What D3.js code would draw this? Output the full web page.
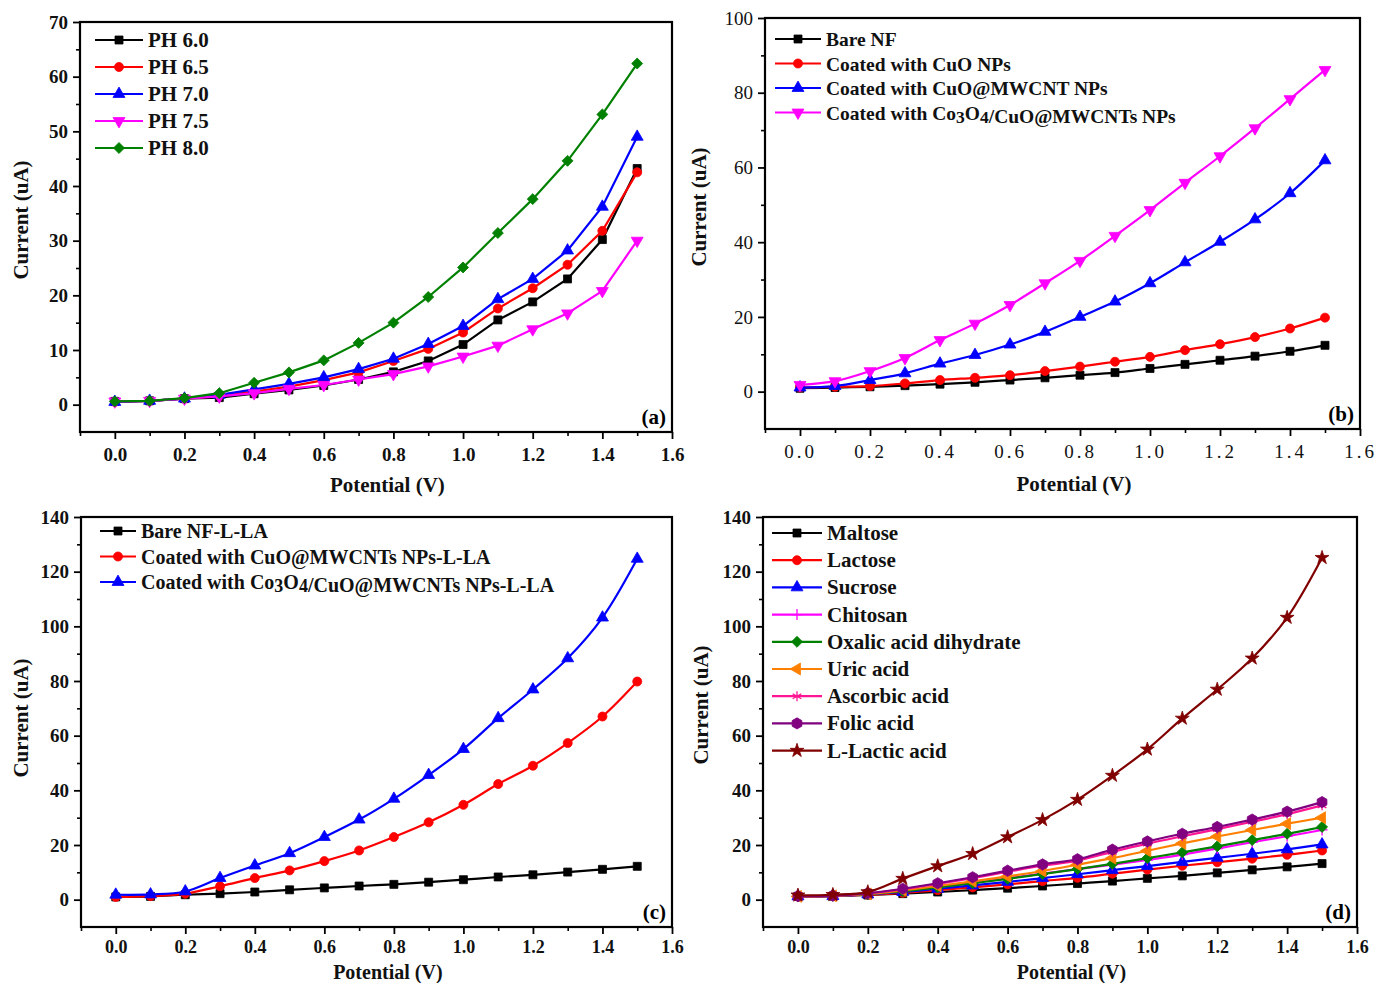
<!DOCTYPE html>
<html>
<head>
<meta charset="utf-8">
<script src="https://cdn.jsdelivr.net/npm/d3@7"></script>
<style>
  body { margin: 0; background: #fff; }
  text { font-family: "Liberation Serif", "Times New Roman", serif; }
</style>
</head>
<body>
<svg id="fig" width="1376" height="983"></svg>
<script>
// Applied potential (V), shared by every curve
const potential = [0.0, 0.1, 0.2, 0.3, 0.4, 0.5, 0.6, 0.7, 0.8, 0.9, 1.0, 1.1, 1.2, 1.3, 1.4, 1.5];

// (a) effect of pH
const phLabels = ["PH 6.0", "PH 6.5", "PH 7.0", "PH 7.5", "PH 8.0"];
const ph60 = [0.6, 0.7, 1.1, 1.3, 2.0, 2.7, 3.5, 4.6, 6.0, 8.0, 11.0, 15.5, 18.8, 23.0, 30.2, 43.2];
const ph65 = [0.5, 0.7, 1.1, 1.6, 2.4, 3.3, 4.5, 5.9, 8.0, 10.2, 13.2, 17.6, 21.3, 25.6, 31.8, 42.5];
const ph70 = [0.5, 0.7, 1.1, 1.8, 2.8, 3.8, 5.0, 6.5, 8.4, 11.1, 14.4, 19.3, 23.0, 28.2, 36.2, 49.0];
const ph75 = [0.6, 0.7, 1.1, 1.5, 2.1, 2.9, 3.6, 4.6, 5.6, 7.0, 8.8, 10.8, 13.8, 16.7, 20.8, 30.0];
const ph80 = [0.6, 0.7, 1.2, 2.1, 4.0, 5.9, 8.1, 11.3, 15.0, 19.7, 25.1, 31.4, 37.6, 44.6, 53.1, 62.4];

// (b) electrode modification
const electrodeLabels = ["Bare NF", "Coated with CuO NPs", "Coated with CuO@MWCNT NPs", "Coated with Co3O4/CuO@MWCNTs NPs"];
const bareNF = [0.9, 1.1, 1.3, 1.6, 2.0, 2.5, 3.1, 3.7, 4.4, 5.1, 6.2, 7.3, 8.4, 9.5, 10.8, 12.4];
const cuoNP = [1.1, 1.3, 1.5, 2.2, 3.1, 3.7, 4.4, 5.5, 6.7, 8.0, 9.3, 11.1, 12.7, 14.6, 16.9, 19.8];
const cuoMwcnt = [1.1, 1.5, 3.1, 4.9, 7.5, 9.8, 12.6, 16.0, 20.0, 24.1, 29.0, 34.6, 40.1, 46.1, 53.1, 61.9];
const co3o4CuoMwcnt = [1.8, 2.8, 5.5, 9.0, 13.8, 18.2, 23.2, 29.0, 35.0, 41.7, 48.6, 55.9, 63.0, 70.5, 78.3, 86.1];

// (c) response to L-lactic acid
const lactateLabels = ["Bare NF-L-LA", "Coated with CuO@MWCNTs NPs-L-LA", "Coated with Co3O4/CuO@MWCNTs NPs-L-LA"];
const bareLA = [1.0, 1.2, 1.8, 2.2, 2.8, 3.6, 4.3, 5.0, 5.6, 6.4, 7.3, 8.3, 9.1, 10.1, 11.1, 12.2];
const cuoMwcntLA = [1.0, 1.3, 2.2, 4.9, 7.9, 10.7, 14.1, 18.0, 22.9, 28.3, 34.7, 42.3, 49.0, 57.3, 67.0, 79.8];
const co3o4LA = [1.8, 1.9, 3.0, 7.9, 12.5, 17.0, 22.9, 29.3, 36.9, 45.6, 55.1, 66.4, 76.9, 88.3, 103.2, 124.7];

// (d) selectivity against interferents
const analyteLabels = ["Maltose", "Lactose", "Sucrose", "Chitosan", "Oxalic acid dihydrate", "Uric acid", "Ascorbic acid", "Folic acid", "L-Lactic acid"];
const maltose = [1.2, 1.3, 1.7, 2.2, 2.8, 3.5, 4.2, 5.0, 5.9, 6.8, 7.8, 8.7, 9.8, 10.9, 12.0, 13.2];
const lactose = [1.2, 1.3, 1.8, 2.5, 3.5, 4.5, 5.6, 6.8, 8.0, 9.5, 11.0, 12.4, 13.7, 15.0, 16.4, 18.0];
const sucrose = [1.2, 1.3, 1.9, 2.8, 4.0, 5.2, 6.5, 7.9, 9.3, 10.8, 12.3, 13.8, 15.3, 16.8, 18.4, 20.2];
const chitosan = [1.2, 1.4, 2.0, 3.2, 4.6, 6.2, 7.8, 9.5, 11.2, 12.8, 14.5, 16.5, 18.7, 21.0, 23.2, 25.5];
const oxalicAcid = [1.2, 1.4, 2.0, 3.1, 4.5, 6.0, 7.6, 9.4, 11.2, 13.1, 15.2, 17.3, 19.5, 21.8, 24.1, 26.6];
const uricAcid = [1.2, 1.4, 2.1, 3.4, 5.0, 6.7, 8.5, 10.5, 12.8, 15.2, 17.9, 20.6, 23.1, 25.5, 27.8, 30.0];
const ascorbicAcid = [1.3, 1.5, 2.3, 3.8, 5.8, 7.9, 10.2, 12.4, 14.3, 17.5, 20.5, 23.2, 25.8, 28.5, 31.3, 34.5];
const folicAcid = [1.3, 1.5, 2.4, 4.0, 6.0, 8.2, 10.6, 12.9, 14.8, 18.3, 21.3, 24.1, 26.6, 29.3, 32.2, 35.7];
const lacticAcid = [1.6, 1.8, 2.8, 7.7, 12.3, 16.8, 22.9, 29.2, 36.6, 45.4, 55.0, 66.3, 76.9, 88.3, 103.2, 125.1];

// Axis tick values
const xMajorTicks = [0.0, 0.2, 0.4, 0.6, 0.8, 1.0, 1.2, 1.4, 1.6];
const xMinorTicks = [-0.1, 0.1, 0.3, 0.5, 0.7, 0.9, 1.1, 1.3, 1.5];
const yTicksA = [0, 10, 20, 30, 40, 50, 60, 70];
const yTicksB = [0, 20, 40, 60, 80, 100];
const yTicksCD = [0, 20, 40, 60, 80, 100, 120, 140];

const svg = d3.select("#fig");

// ---- marker shapes ----
function hexPath(r) {
  const pts = d3.range(6).map(i => {
    const a = Math.PI / 6 + i * Math.PI / 3;
    return [r * Math.cos(a), r * Math.sin(a)];
  });
  return "M" + pts.map(p => p.join(",")).join("L") + "Z";
}
function drawMarker(g, kind, color, x, y) {
  const m = g.append("g").attr("transform", `translate(${x},${y})`);
  const fillShape = (path, rot) => m.append("path").attr("d", path)
    .attr("transform", rot ? `rotate(${rot})` : null)
    .attr("fill", color).attr("stroke", color).attr("stroke-width", 0.8);
  switch (kind) {
    case "square": fillShape(d3.symbol(d3.symbolSquare, 64)()); break;
    case "circle": fillShape(d3.symbol(d3.symbolCircle, 64)()); break;
    case "triUp": fillShape(d3.symbol(d3.symbolTriangle, 62)()); break;
    case "triDown": fillShape(d3.symbol(d3.symbolTriangle, 62)(), 180); break;
    case "triLeft": fillShape(d3.symbol(d3.symbolTriangle, 62)(), -90); break;
    case "diamond": fillShape(d3.symbol(d3.symbolSquare, 60)(), 45); break;
    case "hexagon": fillShape(hexPath(5.6)); break;
    case "star": fillShape(d3.symbol(d3.symbolStar, 60)()); break;
    case "cross":
      m.append("path").attr("d", "M-5.5,0H5.5M0,-5.5V5.5").attr("stroke", color).attr("stroke-width", 1.3);
      break;
    case "asterisk":
      m.append("path").attr("d", d3.symbol(d3.symbolAsterisk, 70)()).attr("fill", "none")
        .attr("stroke", color).attr("stroke-width", 1.3);
      break;
  }
}

// Label text with the chemical subscripts of Co3O4
function writeLabel(t, str) {
  const parts = str.split(/(Co3O4)/);
  parts.forEach(p => {
    if (p === "Co3O4") {
      t.append("tspan").text("Co");
      t.append("tspan").attr("dy", 3).attr("font-size", "0.9em").text("3");
      t.append("tspan").attr("dy", -3).text("O");
      t.append("tspan").attr("dy", 3).attr("font-size", "0.9em").text("4");
      t.append("tspan").attr("dy", -3).text("");
    } else if (p.length) {
      t.append("tspan").text(p);
    }
  });
}

function drawPanel(p) {
  const g = svg.append("g");
  const x = d3.scaleLinear().domain([-0.1, 1.6]).range([p.left, p.right]);
  const y = d3.scaleLinear().domain(p.yDomain).range([p.bottom, p.top]);
  const tickWeight = p.lightTicks ? "normal" : "bold";

  // minor ticks
  g.append("g").attr("transform", `translate(0,${p.bottom})`)
    .call(d3.axisBottom(x).tickValues(xMinorTicks).tickSize(4).tickFormat(""))
    .call(a => a.select(".domain").remove())
    .selectAll("line").attr("stroke", "#000").attr("stroke-width", 1.6);
  const yMinor = d3.range(p.yDomain[0] + p.yMinorStep, p.yDomain[1], p.yStep)
    .filter(v => v > p.yDomain[0] && v < p.yDomain[1]);
  g.append("g").attr("transform", `translate(${p.left},0)`)
    .call(d3.axisLeft(y).tickValues(yMinor).tickSize(4).tickFormat(""))
    .call(a => a.select(".domain").remove())
    .selectAll("line").attr("stroke", "#000").attr("stroke-width", 1.6);

  // major ticks + labels
  const xa = g.append("g").attr("transform", `translate(0,${p.bottom})`)
    .call(d3.axisBottom(x).tickValues(xMajorTicks).tickSize(7).tickPadding(p.xPad).tickFormat(d3.format(".1f")));
  xa.select(".domain").remove();
  xa.selectAll("line").attr("stroke", "#000").attr("stroke-width", 1.8);
  xa.selectAll("text").attr("font-size", p.xTickSize).attr("font-weight", tickWeight)
    .attr("font-family", "Liberation Serif, serif").attr("fill", "#111")
    .attr("letter-spacing", p.lightTicks ? 3 : 0);

  const ya = g.append("g").attr("transform", `translate(${p.left},0)`)
    .call(d3.axisLeft(y).tickValues(p.yTicks).tickSize(7).tickPadding(5));
  ya.select(".domain").remove();
  ya.selectAll("line").attr("stroke", "#000").attr("stroke-width", 1.8);
  ya.selectAll("text").attr("font-size", 19).attr("font-weight", tickWeight)
    .attr("font-family", "Liberation Serif, serif").attr("fill", "#111");

  // frame
  g.append("rect").attr("x", p.left).attr("y", p.top)
    .attr("width", p.right - p.left).attr("height", p.bottom - p.top)
    .attr("fill", "none").attr("stroke", "#000").attr("stroke-width", 2.2);

  // curves
  const line = d3.line().x((d, i) => x(potential[i])).y(d => y(d)).curve(p.curve);
  p.series.forEach(s => {
    g.append("path").datum(s.values).attr("d", line)
      .attr("fill", "none").attr("stroke", s.color).attr("stroke-width", 2.2);
    s.values.forEach((v, i) => drawMarker(g, s.marker, s.color, x(potential[i]), y(v)));
  });

  // legend
  p.series.forEach((s, i) => {
    const ly = p.legend.y + i * p.legend.dy;
    g.append("line").attr("x1", p.legend.x).attr("x2", p.legend.x + p.legend.len)
      .attr("y1", ly).attr("y2", ly).attr("stroke", s.color).attr("stroke-width", 2.2);
    drawMarker(g, s.marker, s.color, p.legend.x + p.legend.len / 2, ly);
    const t = g.append("text").attr("x", p.legend.x + p.legend.len + 5).attr("y", ly + 7)
      .attr("font-size", p.legend.size).attr("font-weight", "bold").attr("fill", "#111");
    writeLabel(t, s.label);
  });

  // panel tag
  g.append("text").attr("x", p.right - 6).attr("y", p.bottom - 8)
    .attr("text-anchor", "end").attr("font-size", 21).attr("font-weight", "bold")
    .text(p.tag);

  // axis titles
  g.append("text").attr("x", x(0.8) - 6).attr("y", p.xTitleY)
    .attr("text-anchor", "middle").attr("font-size", p.xTitleSize).attr("font-weight", "bold")
    .attr("fill", "#111").text("Potential (V)");
  g.append("text")
    .attr("transform", `translate(${p.yTitleX},${p.yTitleY}) rotate(-90)`)
    .attr("text-anchor", "middle").attr("font-size", 21).attr("font-weight", "bold")
    .attr("fill", "#111").text("Current (uA)");
}

const linear = d3.curveLinear;
const smooth = d3.curveCatmullRom.alpha(0.5);

drawPanel({
  left: 80, right: 672, top: 22, bottom: 432, yDomain: [-5, 70], yTicks: yTicksA,
  yStep: 10, yMinorStep: 10, curve: linear, tag: "(a)", yTitleX: 28, yTitleY: 220,
  xTitleY: 492, xTitleSize: 21, xPad: 9, xTickSize: 19,
  legend: { x: 95, y: 40, dy: 27, len: 48, size: 21 },
  series: [
    { label: phLabels[0], values: ph60, color: "#000000", marker: "square" },
    { label: phLabels[1], values: ph65, color: "#ff0000", marker: "circle" },
    { label: phLabels[2], values: ph70, color: "#0000ff", marker: "triUp" },
    { label: phLabels[3], values: ph75, color: "#ff00ff", marker: "triDown" },
    { label: phLabels[4], values: ph80, color: "#008000", marker: "diamond" }
  ]
});

drawPanel({
  left: 765, right: 1360, top: 18, bottom: 429, yDomain: [-10, 100], yTicks: yTicksB,
  yStep: 20, yMinorStep: 20, curve: smooth, tag: "(b)", yTitleX: 706, yTitleY: 207,
  xTitleY: 491, xTitleSize: 21, xPad: 9, xTickSize: 19,
  lightTicks: true,
  legend: { x: 775, y: 39, dy: 24.5, len: 46, size: 19.5 },
  series: [
    { label: electrodeLabels[0], values: bareNF, color: "#000000", marker: "square" },
    { label: electrodeLabels[1], values: cuoNP, color: "#ff0000", marker: "circle" },
    { label: electrodeLabels[2], values: cuoMwcnt, color: "#0000ff", marker: "triUp" },
    { label: electrodeLabels[3], values: co3o4CuoMwcnt, color: "#ff00ff", marker: "triDown" }
  ]
});

drawPanel({
  left: 81, right: 672, top: 517, bottom: 927, yDomain: [-10, 140], yTicks: yTicksCD,
  yStep: 20, yMinorStep: 20, curve: smooth, tag: "(c)", yTitleX: 28, yTitleY: 718,
  xTitleY: 979, xTitleSize: 20, xPad: 6, xTickSize: 18,
  legend: { x: 100, y: 531, dy: 25.5, len: 36, size: 20 },
  series: [
    { label: lactateLabels[0], values: bareLA, color: "#000000", marker: "square" },
    { label: lactateLabels[1], values: cuoMwcntLA, color: "#ff0000", marker: "circle" },
    { label: lactateLabels[2], values: co3o4LA, color: "#0000ff", marker: "triUp" }
  ]
});

drawPanel({
  left: 763, right: 1357, top: 517, bottom: 927, yDomain: [-10, 140], yTicks: yTicksCD,
  yStep: 20, yMinorStep: 20, curve: smooth, tag: "(d)", yTitleX: 708, yTitleY: 705,
  xTitleY: 979, xTitleSize: 20, xPad: 6, xTickSize: 18,
  legend: { x: 772, y: 533, dy: 27.2, len: 50, size: 21 },
  series: [
    { label: analyteLabels[0], values: maltose, color: "#000000", marker: "square" },
    { label: analyteLabels[1], values: lactose, color: "#ff0000", marker: "circle" },
    { label: analyteLabels[2], values: sucrose, color: "#0000ff", marker: "triUp" },
    { label: analyteLabels[3], values: chitosan, color: "#ff00ff", marker: "cross" },
    { label: analyteLabels[4], values: oxalicAcid, color: "#008000", marker: "diamond" },
    { label: analyteLabels[5], values: uricAcid, color: "#ff8000", marker: "triLeft" },
    { label: analyteLabels[6], values: ascorbicAcid, color: "#ff1493", marker: "asterisk" },
    { label: analyteLabels[7], values: folicAcid, color: "#800080", marker: "hexagon" },
    { label: analyteLabels[8], values: lacticAcid, color: "#800000", marker: "star" }
  ]
});
</script>
</body>
</html>
